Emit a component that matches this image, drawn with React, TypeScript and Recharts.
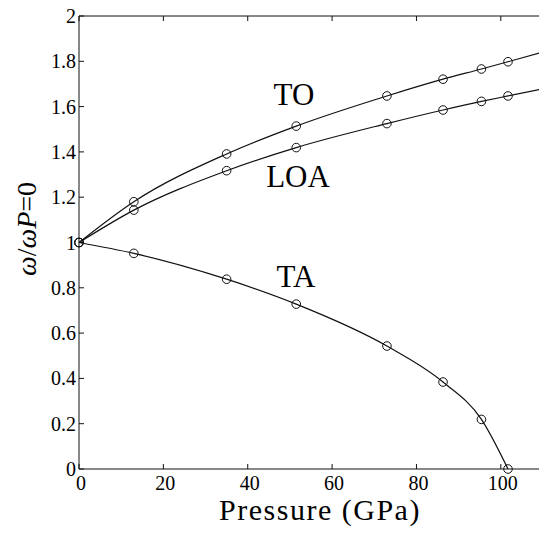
import { LineChart, Line, XAxis, YAxis, Customized } from 'recharts';

// measured pressures (GPa) and normalised frequencies
const pressure = [0, 13, 35, 51.5, 73, 86.3, 95.4, 101.7];
const toMode = [1, 1.18, 1.391, 1.514, 1.647, 1.721, 1.766, 1.798];
const loaMode = [1, 1.143, 1.317, 1.419, 1.525, 1.585, 1.623, 1.647];
const taMode = [1, 0.952, 0.838, 0.728, 0.543, 0.384, 0.219, 0];

// the fitted TO / LOA curves run on past the last point to the frame edge
const tailPressure = 110;
const toTail = 1.841;
const loaTail = 1.678;

const xTicks = [0, 20, 40, 60, 80, 100];
const yTicks = [0, 0.2, 0.4, 0.6, 0.8, 1, 1.2, 1.4, 1.6, 1.8, 2];

const rows: any[] = pressure.map((p, i) => ({
  p,
  to: toMode[i],
  loa: loaMode[i],
  ta: taMode[i],
  measured: true,
}));
rows.push({ p: tailPressure, to: toTail, loa: loaTail, measured: false });

const serif = '"Liberation Serif", "Times New Roman", serif';
const ink = '#111';

const Dot = (props: any) => {
  const { cx, cy, payload, index } = props;
  if (!payload || !payload.measured || cx == null || cy == null) return <g key={index} />;
  return <circle key={index} cx={cx} cy={cy} r={4.3} fill="none" stroke={ink} strokeWidth={1} />;
};

const LeftTick = (props: any) => {
  const { x, y, payload } = props;
  return (
    <g>
      <line x1={x} x2={x + 5} y1={y} y2={y} stroke={ink} />
      <text
        x={x - 3}
        y={y}
        textAnchor="end"
        dominantBaseline="central"
        fill="#000"
        style={{ fontFamily: serif, fontSize: 20 }}
      >
        {payload.value}
      </text>
    </g>
  );
};

const BottomTick = (props: any) => {
  const { x, y, payload } = props;
  return (
    <g>
      <line x1={x} x2={x} y1={y} y2={y - 5} stroke={ink} />
      <text x={x + 2} y={y + 21} textAnchor="middle" fill="#000" style={{ fontFamily: serif, fontSize: 20 }}>
        {payload.value}
      </text>
    </g>
  );
};

const RightTick = (props: any) => <line x1={props.x - 6} x2={props.x} y1={props.y} y2={props.y} stroke={ink} />;
const TopTick = (props: any) => <line x1={props.x} x2={props.x} y1={props.y} y2={props.y + 5} stroke={ink} />;

const Annotations = () => (
  <g fill="#000">
    <text x={294} y={105} textAnchor="middle" style={{ fontFamily: serif, fontSize: 31 }}>TO</text>
    <text x={298} y={187} textAnchor="middle" style={{ fontFamily: serif, fontSize: 31 }}>LOA</text>
    <text x={296} y={287} textAnchor="middle" style={{ fontFamily: serif, fontSize: 31 }}>TA</text>
    <text x={320} y={520} textAnchor="middle" style={{ fontFamily: serif, fontSize: 30, letterSpacing: 1.5 }}>
      Pressure (GPa)
    </text>
    <text
      x={26}
      y={229}
      transform="rotate(-90, 26, 229)"
      textAnchor="middle"
      dominantBaseline="central"
      style={{ fontFamily: serif, fontSize: 28 }}
    >
      <tspan fontStyle="italic">ω</tspan>
      <tspan>/</tspan>
      <tspan fontStyle="italic">ωP</tspan>
      <tspan>=0</tspan>
    </text>
  </g>
);

export default function App() {
  return (
    <div
      style={{
        position: 'fixed',
        left: 0,
        top: 0,
        width: 539,
        height: 537,
        overflow: 'hidden',
        background: '#fff',
        fontFamily: serif,
      }}
    >
      <LineChart width={560} height={537} data={rows} margin={{ top: 0, right: 0, bottom: 0, left: 0 }}>
        <XAxis
          dataKey="p"
          type="number"
          domain={[0, 110]}
          ticks={xTicks}
          height={68}
          tickSize={0}
          tickMargin={0}
          tickLine={false}
          tick={(p: any) => <BottomTick {...p} />}
          axisLine={{ stroke: ink }}
          interval={0}
        />
        <XAxis
          xAxisId="top"
          orientation="top"
          dataKey="p"
          type="number"
          domain={[0, 110]}
          ticks={xTicks}
          height={16}
          tickSize={0}
          tickMargin={0}
          tickLine={false}
          tick={(p: any) => <TopTick {...p} />}
          axisLine={{ stroke: ink }}
          interval={0}
        />
        <YAxis
          type="number"
          domain={[0, 2]}
          ticks={yTicks}
          width={79}
          tickSize={0}
          tickMargin={0}
          tickLine={false}
          tick={(p: any) => <LeftTick {...p} />}
          axisLine={{ stroke: ink }}
          interval={0}
        />
        <YAxis
          yAxisId="right"
          orientation="right"
          type="number"
          domain={[0, 2]}
          ticks={yTicks}
          width={17}
          tickSize={0}
          tickMargin={0}
          tickLine={false}
          tick={(p: any) => <RightTick {...p} />}
          axisLine={{ stroke: ink }}
          interval={0}
        />
        <Line type="monotone" dataKey="to" stroke={ink} strokeWidth={1.2} dot={<Dot />} activeDot={false} isAnimationActive={false} />
        <Line type="monotone" dataKey="loa" stroke={ink} strokeWidth={1.2} dot={<Dot />} activeDot={false} isAnimationActive={false} />
        <Line type="monotone" dataKey="ta" stroke={ink} strokeWidth={1.2} dot={<Dot />} activeDot={false} isAnimationActive={false} />
        <Customized component={<Annotations />} />
      </LineChart>
    </div>
  );
}
